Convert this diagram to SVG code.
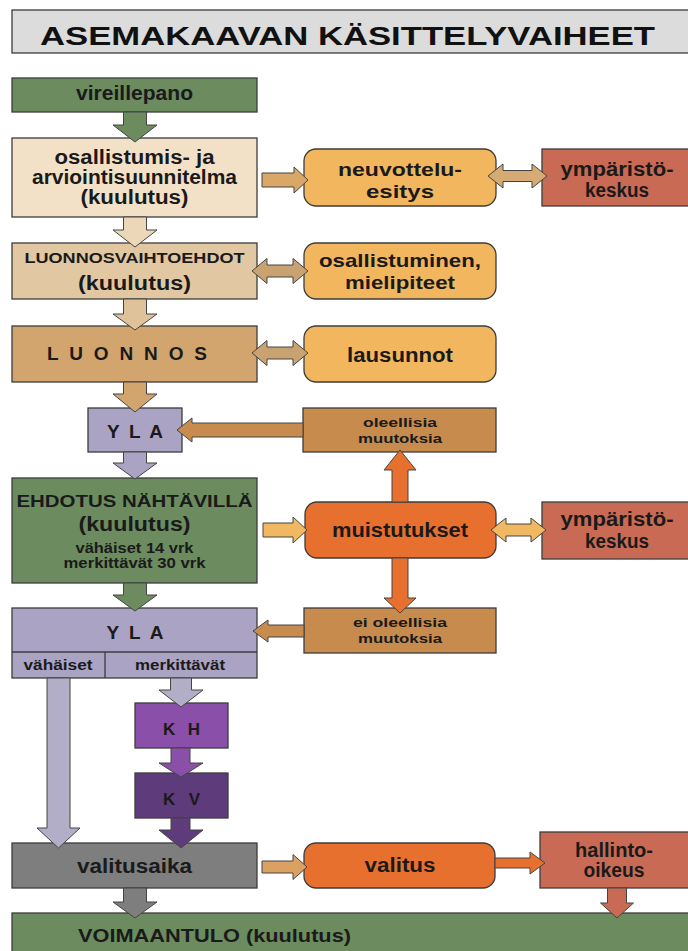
<svg xmlns="http://www.w3.org/2000/svg" width="688" height="951" viewBox="0 0 688 951">
<style>
text{font-family:"Liberation Sans",Arial,sans-serif;font-weight:bold;fill:#1a1a1a;text-anchor:middle}
.b{stroke:#3c3c3c;stroke-width:1.3}
.a{stroke:#454545;stroke-width:1}
.t20{font-size:20px}
.t18{font-size:18.5px}
.t14{font-size:14px}
.t13{font-size:13.5px}
.sp{font-size:19px}
</style>
<rect width="688" height="951" fill="#ffffff"/>
<g id="title">
<rect class="b" x="12" y="10" width="690" height="43" fill="#dcdcdc" stroke="#6a6a6a"/>
<text x="40" y="45" style="font-size:25.5px;text-anchor:start;fill:#111" textLength="615" lengthAdjust="spacingAndGlyphs">ASEMAKAAVAN KÄSITTELYVAIHEET</text>
</g>
<g id="vireillepano">
<rect class="b" x="12" y="78" width="245" height="34" fill="#6c8b5f"/>
<text class="t20" x="134.5" y="100" textLength="117" lengthAdjust="spacingAndGlyphs">vireillepano</text>
</g>
<g id="osallistumis">
<rect class="b" x="12" y="138" width="245" height="79" fill="#f3e1c7"/>
<text class="t20" x="134.5" y="164" textLength="160" lengthAdjust="spacingAndGlyphs">osallistumis- ja</text>
<text class="t20" x="134.5" y="184" textLength="205" lengthAdjust="spacingAndGlyphs">arviointisuunnitelma</text>
<text class="t20" x="134.5" y="204" textLength="108" lengthAdjust="spacingAndGlyphs">(kuulutus)</text>
</g>
<g id="neuvottelu">
<rect class="b" x="304" y="149" width="192" height="57" rx="12" fill="#f2b75e" stroke="#5a4020"/>
<text class="t18" x="400" y="176" textLength="124" lengthAdjust="spacingAndGlyphs">neuvottelu-</text>
<text class="t18" x="400" y="198" textLength="68" lengthAdjust="spacingAndGlyphs">esitys</text>
</g>
<g id="ymparisto1">
<rect class="b" x="542" y="149" width="150" height="57" fill="#c96a55"/>
<text class="t20" x="617" y="176" textLength="113" lengthAdjust="spacingAndGlyphs">ympäristö-</text>
<text class="t20" x="617" y="197" textLength="64" lengthAdjust="spacingAndGlyphs">keskus</text>
</g>
<g id="luonnosvaihtoehdot">
<rect class="b" x="12" y="243" width="245" height="56" fill="#e2c8a2"/>
<text x="134.5" y="263" style="font-size:15px" textLength="220" lengthAdjust="spacingAndGlyphs">LUONNOSVAIHTOEHDOT</text>
<text class="t20" x="134.5" y="290" textLength="113" lengthAdjust="spacingAndGlyphs">(kuulutus)</text>
</g>
<g id="osallistuminen">
<rect class="b" x="304" y="243" width="192" height="56" rx="12" fill="#f2b75e" stroke="#5a4020"/>
<text class="t18" x="400" y="267" textLength="162" lengthAdjust="spacingAndGlyphs">osallistuminen,</text>
<text class="t18" x="400" y="289" textLength="110" lengthAdjust="spacingAndGlyphs">mielipiteet</text>
</g>
<g id="luonnos">
<rect class="b" x="12" y="326" width="245" height="56" fill="#d3a56e"/>
<text class="sp" x="47" y="360" style="text-anchor:start" textLength="160" lengthAdjust="spacing">L U O N N O S</text>
</g>
<g id="lausunnot">
<rect class="b" x="304" y="326" width="192" height="56" rx="12" fill="#f2b75e" stroke="#5a4020"/>
<text class="t20" x="400" y="362" textLength="106" lengthAdjust="spacingAndGlyphs">lausunnot</text>
</g>
<g id="yla1">
<rect class="b" x="88" y="408" width="94" height="44" fill="#aaa3c3"/>
<text class="sp" x="135" y="438" textLength="56" lengthAdjust="spacing">Y L A</text>
</g>
<g id="oleellisia">
<rect class="b" x="303" y="408" width="193" height="44" fill="#c78b4e"/>
<text class="t13" x="400" y="427" textLength="74" lengthAdjust="spacingAndGlyphs">oleellisia</text>
<text class="t13" x="400" y="443" textLength="84" lengthAdjust="spacingAndGlyphs">muutoksia</text>
</g>
<g id="ehdotus">
<rect class="b" x="12" y="478" width="245" height="105" fill="#6c8b5f"/>
<text x="134.5" y="507" style="font-size:16px" textLength="236" lengthAdjust="spacingAndGlyphs">EHDOTUS NÄHTÄVILLÄ</text>
<text class="t20" x="134.5" y="531" textLength="112" lengthAdjust="spacingAndGlyphs">(kuulutus)</text>
<text class="t14" x="134.5" y="553" textLength="118" lengthAdjust="spacingAndGlyphs">vähäiset 14 vrk</text>
<text class="t14" x="134.5" y="568" textLength="142" lengthAdjust="spacingAndGlyphs">merkittävät 30 vrk</text>
</g>
<g id="muistutukset">
<rect class="b" x="305" y="502" width="191" height="56" rx="12" fill="#e8702e" stroke="#5a3018"/>
<text class="t20" x="400" y="537" textLength="136" lengthAdjust="spacingAndGlyphs">muistutukset</text>
</g>
<g id="ymparisto2">
<rect class="b" x="542" y="502" width="150" height="57" fill="#c96a55"/>
<text class="t20" x="617" y="526" textLength="113" lengthAdjust="spacingAndGlyphs">ympäristö-</text>
<text class="t20" x="617" y="548" textLength="64" lengthAdjust="spacingAndGlyphs">keskus</text>
</g>
<g id="eioleellisia">
<rect class="b" x="304" y="608" width="192" height="45" fill="#c78b4e"/>
<text class="t13" x="400" y="627" textLength="94" lengthAdjust="spacingAndGlyphs">ei oleellisia</text>
<text class="t13" x="400" y="643" textLength="84" lengthAdjust="spacingAndGlyphs">muutoksia</text>
</g>
<g id="yla2">
<rect class="b" x="12" y="608" width="245" height="70" fill="#aaa3c3"/>
<line class="b" x1="12" y1="652" x2="257" y2="652"/>
<line class="b" x1="105" y1="652" x2="105" y2="678"/>
<text class="sp" x="135" y="639" textLength="57" lengthAdjust="spacing">Y L A</text>
<text class="t14" x="58" y="670" textLength="69" lengthAdjust="spacingAndGlyphs">vähäiset</text>
<text class="t14" x="180" y="670" textLength="90" lengthAdjust="spacingAndGlyphs">merkittävät</text>
</g>
<g id="kh">
<rect class="b" x="135" y="703" width="93" height="45" fill="#8a4fa8"/>
<text x="181.5" y="735" style="font-size:17px" textLength="37" lengthAdjust="spacing">K H</text>
</g>
<g id="kv">
<rect class="b" x="135" y="773" width="93" height="45" fill="#5e3b7b"/>
<text x="181.5" y="805" style="font-size:17px" textLength="37" lengthAdjust="spacing">K V</text>
</g>
<g id="valitusaika">
<rect class="b" x="12" y="843" width="245" height="45" fill="#7e7e7e"/>
<text class="t20" x="134.5" y="873" textLength="115" lengthAdjust="spacingAndGlyphs">valitusaika</text>
</g>
<g id="valitus">
<rect class="b" x="304" y="843" width="191" height="45" rx="12" fill="#e8702e" stroke="#5a3018"/>
<text class="t20" x="400" y="872" textLength="71" lengthAdjust="spacingAndGlyphs">valitus</text>
</g>
<g id="hallinto">
<rect class="b" x="540" y="832" width="152" height="56" fill="#c96a55"/>
<text class="t20" x="614" y="857" textLength="78" lengthAdjust="spacingAndGlyphs">hallinto-</text>
<text class="t20" x="614" y="877" textLength="61" lengthAdjust="spacingAndGlyphs">oikeus</text>
</g>
<g id="voimaantulo">
<rect class="b" x="12" y="913" width="690" height="50" fill="#6c8b5f"/>
<text x="78" y="942" style="font-size:18px;text-anchor:start" textLength="273" lengthAdjust="spacingAndGlyphs">VOIMAANTULO (kuulutus)</text>
</g>
<g id="connectors" class="a">
<path fill="#6c8b5f" d="M123.5 112 H146.5 V125 H157 L135 142 L113 125 H123.5 Z"/>
<path fill="#ecd8b8" d="M123.5 217 H146.5 V230 H157 L135 247 L113 230 H123.5 Z"/>
<path fill="#dfc29a" d="M123.5 299 H146.5 V314 H157 L135 330 L113 314 H123.5 Z"/>
<path fill="#d3a56e" d="M123.5 382 H146.5 V394 H157 L135 412 L113 394 H123.5 Z"/>
<path fill="#aaa3c3" d="M123.5 452 H146.5 V463 H157 L135 479 L113 463 H123.5 Z"/>
<path fill="#6c8b5f" d="M123.5 583 H146.5 V595 H157 L135 611 L113 595 H123.5 Z"/>
<path fill="#7e7e7e" d="M123.5 888 H146.5 V902 H157 L135 918 L113 902 H123.5 Z"/>
<path fill="#b3aec8" d="M47 678 H70 V828 H80 L58.5 848 L37 828 H47 Z"/>
<path fill="#b3aec8" d="M170.5 678 H191.5 V690 H203 L181 707 L159 690 H170.5 Z"/>
<path fill="#8a4fa8" d="M171 748 H190 V763 H203 L181 777 L159 763 H171 Z"/>
<path fill="#5e3b7b" d="M171 818 H190 V830 H203 L181 848 L159 830 H171 Z"/>
<path fill="#e8702e" d="M392 502 H408 V470 H416 L400 450 L384 470 H392 Z"/>
<path fill="#e8702e" d="M392 558 H408 V598 H416 L400 613 L384 598 H392 Z"/>
<path fill="#c96a55" d="M607.5 888 H626.5 V903 H633.5 L617 918 L600.5 903 H607.5 Z"/>
<path fill="#d9a766" d="M262 173 H294 V167 L308 180 L294 193 V187 H262 Z"/>
<path fill="#f0b860" d="M263 523 H293 V517 L307 530 L293 543 V537 H263 Z"/>
<path fill="#dba163" d="M262 861 H293 V854.5 L307 867 L293 879.5 V873 H262 Z"/>
<path fill="#e8702e" d="M495 858 H530 V852 L545 863 L530 874 V868 H495 Z"/>
<path fill="#c78b4e" d="M303 423 H192 V418 L177 430 L192 442 V437 H303 Z"/>
<path fill="#c78b4e" d="M304 625 H268 V620 L253 631 L268 642 V637 H304 Z"/>
<path fill="#d6aa74" d="M488 176 L503 164 V170.5 H532 V164 L547 176 L532 188 V181.5 H503 V188 Z"/>
<path fill="#c9a271" d="M252 271 L267 258.5 V265 H293 V258.5 L308 271 L293 283.5 V277 H267 V283.5 Z"/>
<path fill="#c9a271" d="M252 353 L267 340.5 V347 H293 V340.5 L308 353 L293 365.5 V359 H267 V365.5 Z"/>
<path fill="#f0b860" d="M491 530 L506 518 V524 H531 V518 L546 530 L531 542 V536 H506 V542 Z"/>
</g>
</svg>
